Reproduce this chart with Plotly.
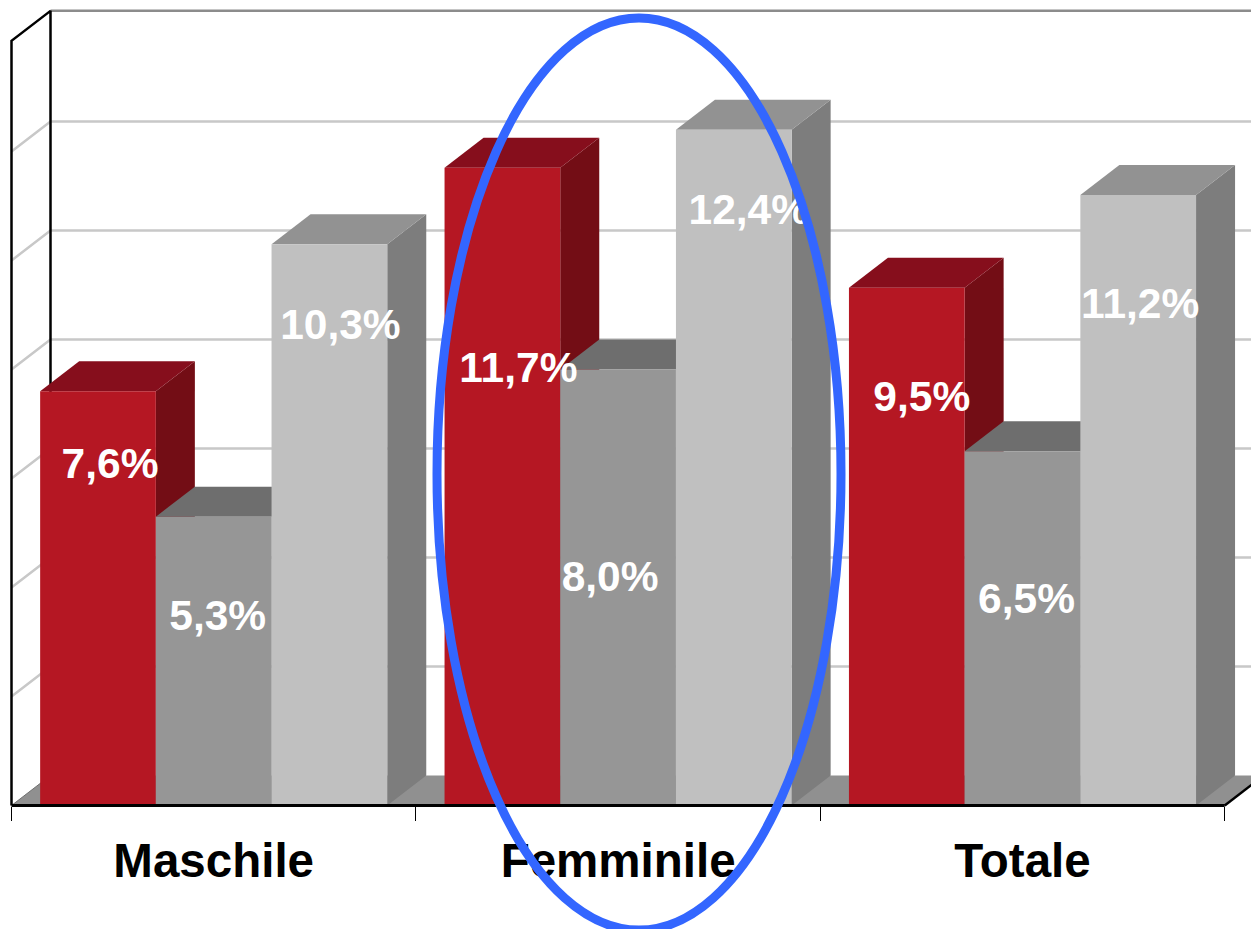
import plotly.graph_objects as go

categories = ["Maschile", "Femminile", "Totale"]
series_red = [7.6, 11.7, 9.5]
series_gray = [5.3, 8.0, 6.5]
series_light = [10.3, 12.4, 11.2]
value_labels_red = ["7,6%", "11,7%", "9,5%"]
value_labels_gray = ["5,3%", "8,0%", "6,5%"]
value_labels_light = ["10,3%", "12,4%", "11,2%"]
grid_values = [2, 4, 6, 8, 10, 12]
wall_top = 14.03

W, H = 1251, 929
PX_PER_CAT, PX_PER_VAL = 404.4, 54.5
ORIGIN_X, ORIGIN_Y = 11.5, 805.5
XR = [-ORIGIN_X / PX_PER_CAT, (W - ORIGIN_X) / PX_PER_CAT]
YR = [-(H - ORIGIN_Y) / PX_PER_VAL, ORIGIN_Y / PX_PER_VAL]
DX, DY = 39 / PX_PER_CAT, 30 / PX_PER_VAL
BAR_W = 115.7 / PX_PER_CAT

styles = [
    dict(vals=series_red, labels=value_labels_red, front="#b51723", top="#860e1c", side="#730d15", off=-1,
         lx=[12, 16, 15], ly=[76, 204, 113]),
    dict(vals=series_gray, labels=value_labels_gray, front="#969696", top="#6e6e6e", side="#6e6e6e", off=0,
         lx=[4, -8, 4], ly=[103, 211, 151]),
    dict(vals=series_light, labels=value_labels_light, front="#c0c0c0", top="#929292", side="#7d7d7d", off=1,
         lx=[11, 15, 2], ly=[84, 84, 112]),
]

fig = go.Figure()


def poly(xs, ys, color):
    fig.add_trace(go.Scatter(x=xs, y=ys, mode="lines", fill="toself", fillcolor=color,
                             line=dict(width=0, color=color), hoverinfo="skip", showlegend=False))


def seg(xs, ys, color, width):
    fig.add_trace(go.Scatter(x=xs, y=ys, mode="lines", line=dict(color=color, width=width),
                             hoverinfo="skip", showlegend=False))


n = len(categories)
# floor
poly([0, n, n + DX, DX, 0], [0, 0, DY, DY, 0], "#909090")
# gridlines on back and left walls
for g in grid_values:
    seg([0, DX, XR[1] + 1], [g, g + DY, g + DY], "#c8c8c8", 2.5)
seg([DX, XR[1] + 1], [wall_top + DY, wall_top + DY], "#8c8c8c", 2.5)
# wall frame
seg([0, 0, DX, DX], [0, wall_top, wall_top + DY, DY], "#000000", 2.5)
seg([0, DX], [0, DY], "#707070", 1)
seg([n, n + DX], [0, DY], "#000000", 2.5)

# depth faces, computed from the values
for s in styles:
    for i, v in enumerate(s["vals"]):
        c = i + 0.5 + s["off"] * BAR_W
        l, r = c - BAR_W / 2, c + BAR_W / 2
        poly([r, r + DX, r + DX, r, r], [0, DY, v + DY, v, 0], s["side"])
        poly([l, r, r + DX, l + DX, l], [v, v, v + DY, v + DY, v], s["top"])

# front faces on an overlay axis so they sit above the depth faces
for s in styles:
    fig.add_trace(go.Bar(
        x=[i + 0.5 + s["off"] * BAR_W for i in range(n)], y=s["vals"], width=BAR_W,
        marker=dict(color=s["front"], line=dict(width=0)),
        xaxis="x2", yaxis="y2", hoverinfo="skip", showlegend=False))
seg([0, n], [0, 0], "#000000", 3)
fig.data[-1].update(xaxis="x2", yaxis="y2")

for s in styles:
    fig.add_trace(go.Scatter(
        x=[i + 0.5 + s["off"] * BAR_W + s["lx"][i] / PX_PER_CAT for i in range(n)],
        y=[v - s["ly"][i] / PX_PER_VAL for i, v in enumerate(s["vals"])],
        mode="text", text=s["labels"], textposition="middle center",
        textfont=dict(family="Liberation Sans", size=42.5, color="#ffffff", weight="bold"),
        xaxis="x2", yaxis="y2", hoverinfo="skip", showlegend=False, cliponaxis=False))

fig.update_layout(
    width=W, height=H, margin=dict(l=0, r=0, t=0, b=0, pad=0),
    paper_bgcolor="#ffffff", plot_bgcolor="rgba(0,0,0,0)", barmode="overlay", showlegend=False,
    xaxis=dict(range=XR, domain=[0, 1], anchor="free", position=(H - ORIGIN_Y) / H,
               showgrid=False, zeroline=False, showline=False,
               tickmode="array", tickvals=[i + 0.5 for i in range(n)], ticktext=categories,
               ticks="", ticklabelstandoff=23,
               tickfont=dict(family="Liberation Sans", size=47.5, color="#000000", weight="bold"),
               minor=dict(tickmode="array", tickvals=list(range(n + 1)), ticks="outside",
                          ticklen=14, tickwidth=1, tickcolor="#000000", showgrid=False)),
    yaxis=dict(range=YR, domain=[0, 1], visible=False, showgrid=False, zeroline=False),
    xaxis2=dict(range=XR, overlaying="x", visible=False, anchor="y2"),
    yaxis2=dict(range=YR, overlaying="y", visible=False, anchor="x2"),
    shapes=[dict(type="circle", xref="paper", yref="paper", layer="above",
                 x0=437 / W, x1=841 / W, y0=1 - 930 / H, y1=1 - 18 / H,
                 line=dict(color="#3366ff", width=9), fillcolor="rgba(0,0,0,0)")],
)

fig.write_html("out.html", config={"displayModeBar": False},
               post_script="document.body.style.margin='0';document.body.style.overflow='hidden';")
